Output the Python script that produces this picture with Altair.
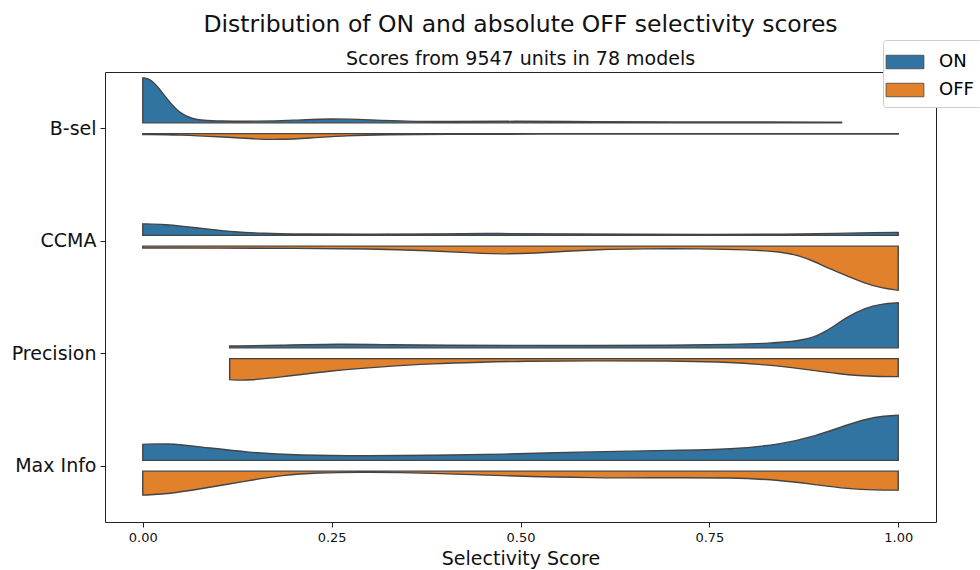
import altair as alt
import pandas as pd

# Metrics, listed top to bottom
metrics = ["B-sel", "CCMA", "Precision", "Max Info"]
sides = ["ON", "OFF"]
side_colors = ["#3274a1", "#e1812c"]

# Kernel density estimates (relative to the peak of the widest half), sampled along the score axis
bsel_on_score = [0, 0.01, 0.02, 0.035, 0.05, 0.065, 0.08, 0.1, 0.15, 0.2, 0.25, 0.3, 0.35, 0.4, 0.49, 0.6, 0.7, 0.8, 0.925]
bsel_on_dens = [1.0, 0.978, 0.8, 0.467, 0.2, 0.089, 0.056, 0.04, 0.033, 0.056, 0.1, 0.067, 0.033, 0.027, 0.038, 0.027, 0.02, 0.018, 0.016]

bsel_off_score = [0, 0.05, 0.1, 0.15, 0.18, 0.22, 0.27, 0.32, 0.4, 0.5, 0.7, 1.0]
bsel_off_dens = [0.018, 0.027, 0.067, 0.122, 0.133, 0.1, 0.044, 0.022, 0.013, 0.011, 0.009, 0.009]

ccma_on_score = [0, 0.03, 0.06, 0.09, 0.12, 0.16, 0.2, 0.3, 0.4, 0.47, 0.55, 0.65, 0.75, 0.85, 0.92, 0.97, 1.0]
ccma_on_dens = [0.256, 0.244, 0.189, 0.133, 0.078, 0.044, 0.029, 0.022, 0.033, 0.044, 0.033, 0.022, 0.018, 0.022, 0.044, 0.062, 0.067]

ccma_off_score = [0, 0.1, 0.2, 0.3, 0.38, 0.44, 0.48, 0.52, 0.56, 0.6, 0.66, 0.74, 0.8, 0.845, 0.87, 0.89, 0.91, 0.935, 0.955, 0.978, 1.0]
ccma_off_dens = [0.04, 0.044, 0.049, 0.058, 0.1, 0.156, 0.178, 0.156, 0.111, 0.078, 0.056, 0.056, 0.078, 0.124, 0.213, 0.347, 0.511, 0.68, 0.822, 0.933, 0.978]

prec_on_score = [0.115, 0.18, 0.26, 0.33, 0.4, 0.5, 0.6, 0.7, 0.78, 0.83, 0.868, 0.89, 0.9, 0.912, 0.93, 0.956, 0.978, 1.0]
prec_on_dens = [0.04, 0.056, 0.089, 0.067, 0.056, 0.056, 0.049, 0.056, 0.078, 0.1, 0.149, 0.244, 0.333, 0.444, 0.667, 0.889, 0.978, 1.0]

prec_off_score = [0.115, 0.14, 0.185, 0.25, 0.317, 0.383, 0.45, 0.5, 0.6, 0.7, 0.76, 0.824, 0.86, 0.89, 0.92, 0.947, 0.975, 1.0]
prec_off_dens = [0.467, 0.489, 0.4, 0.267, 0.178, 0.111, 0.078, 0.056, 0.049, 0.049, 0.067, 0.133, 0.2, 0.267, 0.333, 0.378, 0.4, 0.4]

maxinfo_on_score = [0, 0.031, 0.075, 0.14, 0.207, 0.296, 0.383, 0.47, 0.6, 0.7, 0.78, 0.845, 0.89, 0.934, 0.97, 1.0]
maxinfo_on_dens = [0.356, 0.378, 0.304, 0.171, 0.111, 0.096, 0.111, 0.133, 0.193, 0.222, 0.244, 0.356, 0.533, 0.8, 0.978, 1.0]

maxinfo_off_score = [0, 0.031, 0.075, 0.14, 0.185, 0.23, 0.296, 0.383, 0.47, 0.6, 0.69, 0.78, 0.845, 0.89, 0.934, 0.97, 1.0]
maxinfo_off_dens = [0.533, 0.511, 0.4, 0.211, 0.089, 0.033, 0.022, 0.044, 0.1, 0.156, 0.144, 0.144, 0.2, 0.3, 0.393, 0.422, 0.422]

curves = {
    ("B-sel", "ON"): (bsel_on_score, bsel_on_dens),
    ("B-sel", "OFF"): (bsel_off_score, bsel_off_dens),
    ("CCMA", "ON"): (ccma_on_score, ccma_on_dens),
    ("CCMA", "OFF"): (ccma_off_score, ccma_off_dens),
    ("Precision", "ON"): (prec_on_score, prec_on_dens),
    ("Precision", "OFF"): (prec_off_score, prec_off_dens),
    ("Max Info", "ON"): (maxinfo_on_score, maxinfo_on_dens),
    ("Max Info", "OFF"): (maxinfo_off_score, maxinfo_off_dens),
}

rows = []
for (metric, side), (scores, dens) in curves.items():
    for s, d in zip(scores, dens):
        rows.append({"metric": metric, "side": side, "score": s, "density": d})
df = pd.DataFrame(rows)

n = len(metrics)
half_width = 0.4   # peak half-violin width, in category units
gap = 0.048        # space between the two halves

order_expr = "[" + ",".join(f"'{m}'" for m in metrics) + "]"
center_expr = f"{n} - indexof({order_expr}, datum.metric) - 0.5"
sign_expr = "datum.side == 'ON' ? 1 : -1"

label_expr = (
    "datum.value == 3.5 ? 'B-sel' : datum.value == 2.5 ? 'CCMA' : "
    "datum.value == 1.5 ? 'Precision' : 'Max Info'"
)

legend_symbol = "M-1.4,-0.5L1.4,-0.5L1.4,0.5L-1.4,0.5Z"

chart = (
    alt.Chart(df)
    .transform_calculate(center=center_expr, sgn=sign_expr)
    .transform_calculate(
        base=f"datum.center + datum.sgn * {gap}",
        edge=f"datum.center + datum.sgn * ({gap} + {half_width} * datum.density)",
    )
    .mark_area(orient="vertical", interpolate="basis", stroke="#444444", strokeWidth=1.4, opacity=1)
    .encode(
        x=alt.X(
            "score:Q",
            scale=alt.Scale(domain=[-0.05, 1.05], nice=False, zero=False),
            axis=alt.Axis(values=[0, 0.25, 0.5, 0.75, 1.0], format=".2f", title="Selectivity Score"),
        ),
        y=alt.Y(
            "edge:Q",
            scale=alt.Scale(domain=[0, n], nice=False, zero=False),
            axis=alt.Axis(values=[3.5, 2.5, 1.5, 0.5], labelExpr=label_expr, title=None,
                          labelFontSize=19, labelPadding=4),
        ),
        y2="base:Q",
        color=alt.Color(
            "side:N",
            scale=alt.Scale(domain=sides, range=side_colors),
            legend=alt.Legend(
                title=None, orient="none", legendX=778, legendY=-32,
                symbolType=legend_symbol, symbolSize=729, symbolStrokeColor="#444444",
                symbolStrokeWidth=0.8, symbolOpacity=1,
                labelFontSize=18, labelOffset=20, rowPadding=5, padding=8,
                fillColor="white", strokeColor="#cccccc", cornerRadius=3,
            ),
        ),
        detail="metric:N",
    )
    .properties(
        width=831,
        height=450,
        padding={"left": 105, "top": 72, "right": 44, "bottom": 48},
        autosize=alt.AutoSizeParams(type="none"),
        title=alt.TitleParams(
            text="Distribution of ON and absolute OFF selectivity scores",
            subtitle="Scores from 9547 units in 78 models",
            fontSize=23.5, fontWeight="normal", subtitleFontSize=19,
            color="#111111", subtitleColor="#111111",
            anchor="middle", frame="group", offset=-29, subtitlePadding=13,
        ),
    )
    .configure(font="DejaVu Sans")
    .configure_view(stroke="#222222", strokeWidth=1)
    .configure_axis(
        grid=False, domain=False, tickColor="#222222", tickSize=5,
        labelColor="#111111", titleColor="#111111", labelFontSize=13,
        titleFontSize=19, titleFontWeight="normal",
    )
    .configure_axisX(labelPadding=4, titlePadding=5)
)

chart.save("out.html", embed_options={"renderer": "svg", "actions": False})
